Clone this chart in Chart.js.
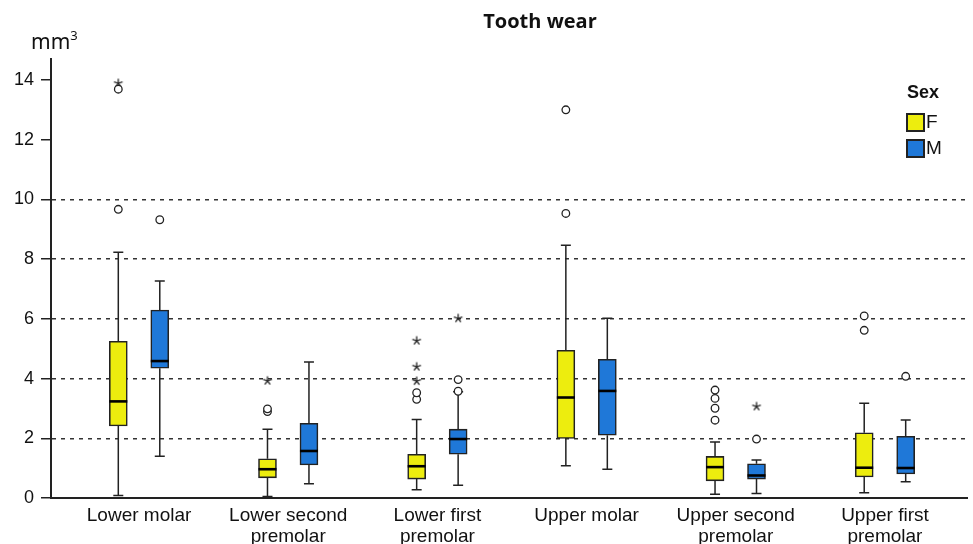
<!DOCTYPE html>
<html>
<head>
<meta charset="utf-8">
<script src="https://cdn.jsdelivr.net/npm/chart.js@4.4.1/dist/chart.umd.min.js"></script>
<style>
  html, body { margin: 0; padding: 0; background: #fff; }
  #wrap { position: relative; width: 973px; height: 544px; }
  .lbl { position: absolute; color: #111; white-space: nowrap; }
  #title { left: 540px; top: 7px; transform: translateX(-50%); font: bold 20px "Open Sans", sans-serif; }
  #unit { left: 31px; top: 27px; font: 21px "Noto Sans", sans-serif; }
  #unit sup { font-size: 13px; vertical-align: 9px; line-height: 0; }
  #legTitle { left: 907px; top: 82px; font: bold 18px "Liberation Sans", sans-serif; }
  .swatch { position: absolute; width: 15px; height: 15px; border: 2px solid #222; }
  .legTxt { font: 19px "Liberation Sans", sans-serif; }
</style>
</head>
<body>
<div id="wrap">
  <canvas id="wearChart" width="973" height="544"></canvas>
  <div class="lbl" id="title">Tooth wear</div>
  <div class="lbl" id="unit">mm<sup>3</sup></div>
  <div class="lbl" id="legTitle">Sex</div>
  <div class="swatch" style="left:906px; top:113px; background:#eded0e;"></div>
  <div class="lbl legTxt" style="left:926px; top:111px;">F</div>
  <div class="swatch" style="left:906px; top:139px; background:#1f78d8;"></div>
  <div class="lbl legTxt" style="left:926px; top:137px;">M</div>
</div>
<script>
const categories = [['Lower molar'], ['Lower second', 'premolar'], ['Lower first', 'premolar'],
                    ['Upper molar'], ['Upper second', 'premolar'], ['Upper first', 'premolar']];

// females
const femaleMin = [0.09, 0.06, 0.28, 1.09, 0.13, 0.18];
const femaleQ1  = [2.42, 0.68, 0.64, 2.00, 0.58, 0.71];
const femaleMed = [3.24, 0.97, 1.07, 3.37, 1.04, 1.02];
const femaleQ3  = [5.25, 1.32, 1.47, 4.95, 1.40, 2.19];
const femaleMax = [8.23, 2.31, 2.63, 8.47, 1.88, 3.18];
const femaleOutliers = [[9.67, 13.69], [2.90, 2.99], [3.31, 3.53], [9.53, 13.0], [2.61, 3.01, 3.34, 3.62], [5.62, 6.10]];
const femaleExtremes = [[13.89], [3.93], [3.92, 4.40, 5.27], [], [], []];

// males
const maleMin = [1.40, 0.48, 0.43, 0.97, 0.16, 0.55];
const maleQ1  = [4.35, 1.11, 1.47, 2.11, 0.64, 0.81];
const maleMed = [4.59, 1.58, 1.98, 3.59, 0.76, 1.01];
const maleQ3  = [6.30, 2.51, 2.31, 4.65, 1.15, 2.07];
const maleMax = [7.27, 4.56, 3.56, 6.02, 1.28, 2.62];
const maleOutliers = [[9.32], [], [3.58, 3.97], [], [1.98], [4.08]];
const maleExtremes = [[], [], [6.02], [], [3.07], []];

const yTicks = [0, 2, 4, 6, 8, 10, 12, 14];

const yellow = '#eded0e';
const blue = '#1f78d8';
const shift = 0.139;   // half the gap between the F and M boxes, in category units

const groups = [
  { label: 'F', off: -shift, color: yellow, min: femaleMin, q1: femaleQ1, med: femaleMed, q3: femaleQ3, max: femaleMax, out: femaleOutliers, ext: femaleExtremes },
  { label: 'M', off: shift, color: blue, min: maleMin, q1: maleQ1, med: maleMed, q3: maleQ3, max: maleMax, out: maleOutliers, ext: maleExtremes }
];

// asterisk marker for extreme values
function makeStar() {
  const c = document.createElement('canvas');
  c.width = 12; c.height = 12;
  const g = c.getContext('2d');
  g.strokeStyle = '#222';
  g.lineWidth = 1.3;
  for (let k = 0; k < 5; k++) {
    const a = (-90 + k * 72) * Math.PI / 180;
    g.beginPath();
    g.moveTo(6, 6);
    g.lineTo(6 + 4.5 * Math.cos(a), 6 + 4.5 * Math.sin(a));
    g.stroke();
  }
  return c;
}
const star = makeStar();

const datasets = [];
groups.forEach(gr => {
  datasets.push({
    type: 'bar',
    label: gr.label,
    data: categories.map((c, i) => ({ x: i + gr.off, y: [gr.q1[i], gr.q3[i]] })),
    backgroundColor: gr.color,
    borderColor: '#222',
    borderWidth: 1.6,
    borderSkipped: false,
    barThickness: 18,
    grouped: false,
    order: 2
  });
});
groups.forEach(gr => {
  const pts = [], ext = [];
  gr.out.forEach((arr, i) => arr.forEach(v => pts.push({ x: i + gr.off, y: v })));
  gr.ext.forEach((arr, i) => arr.forEach(v => ext.push({ x: i + gr.off, y: v })));
  datasets.push({
    type: 'scatter', label: gr.label + ' outliers', data: pts,
    pointStyle: 'circle', pointRadius: 3.8, pointBorderWidth: 1.3,
    pointBorderColor: '#222', pointBackgroundColor: '#fff', order: 0
  });
  datasets.push({
    type: 'scatter', label: gr.label + ' extremes', data: ext,
    pointStyle: star, pointRadius: 5, order: 0
  });
});

// whiskers and medians
const boxPlotParts = {
  id: 'boxPlotParts',
  beforeDatasetsDraw(chart) {
    const { ctx, scales: { x, y } } = chart;
    ctx.save();
    ctx.strokeStyle = '#222';
    ctx.lineWidth = 1.5;
    groups.forEach(gr => {
      categories.forEach((c, i) => {
        const px = x.getPixelForValue(i + gr.off);
        ctx.beginPath();
        ctx.moveTo(px, y.getPixelForValue(gr.min[i]));
        ctx.lineTo(px, y.getPixelForValue(gr.q1[i]));
        ctx.moveTo(px, y.getPixelForValue(gr.q3[i]));
        ctx.lineTo(px, y.getPixelForValue(gr.max[i]));
        ctx.moveTo(px - 5, y.getPixelForValue(gr.min[i]));
        ctx.lineTo(px + 5, y.getPixelForValue(gr.min[i]));
        ctx.moveTo(px - 5, y.getPixelForValue(gr.max[i]));
        ctx.lineTo(px + 5, y.getPixelForValue(gr.max[i]));
        ctx.stroke();
      });
    });
    ctx.restore();
  },
  afterDatasetDraw(chart, args) {
    if (args.index > 1) return;
    const { ctx, scales: { x, y } } = chart;
    const gr = groups[args.index];
    ctx.save();
    ctx.strokeStyle = '#000';
    ctx.lineWidth = 2.6;
    categories.forEach((c, i) => {
      const px = x.getPixelForValue(i + gr.off);
      const py = y.getPixelForValue(gr.med[i]);
      ctx.beginPath();
      ctx.moveTo(px - 9, py);
      ctx.lineTo(px + 9, py);
      ctx.stroke();
    });
    ctx.restore();
  }
};

new Chart(document.getElementById('wearChart'), {
  type: 'bar',
  data: { datasets: datasets },
  options: {
    responsive: false,
    animation: false,
    layout: { padding: { left: 7, top: 59, right: 0, bottom: -10 } },
    plugins: { legend: { display: false }, tooltip: { enabled: false }, title: { display: false } },
    scales: {
      x: {
        type: 'linear',
        offset: false,
        min: -0.59,
        max: 5.55,
        afterBuildTicks: axis => { axis.ticks = categories.map((c, i) => ({ value: i })); },
        ticks: {
          callback: v => categories[v],
          color: '#111',
          font: { family: '"Liberation Sans", Arial, sans-serif', size: 19, lineHeight: 1.1 },
          padding: 7,
          maxRotation: 0,
          autoSkip: false
        },
        grid: { display: false, drawTicks: false, offset: false },
        border: { display: true, color: '#222', width: 2 }
      },
      y: {
        min: 0,
        max: 14.7,
        afterBuildTicks: axis => { axis.ticks = yTicks.map(v => ({ value: v })); },
        ticks: {
          color: '#111',
          font: { family: '"Liberation Sans", Arial, sans-serif', size: 18 },
          padding: 7
        },
        grid: {
          color: c => (c.tick && c.tick.value >= 2 && c.tick.value <= 10) ? '#333' : 'rgba(0,0,0,0)',
          lineWidth: 1.5,
          tickColor: '#222',
          tickWidth: 1.5,
          tickLength: 10,
          tickBorderDash: []
        },
        border: { display: true, color: '#222', width: 2, dash: [4, 5] }
      }
    }
  },
  plugins: [boxPlotParts]
});
</script>
</body>
</html>
